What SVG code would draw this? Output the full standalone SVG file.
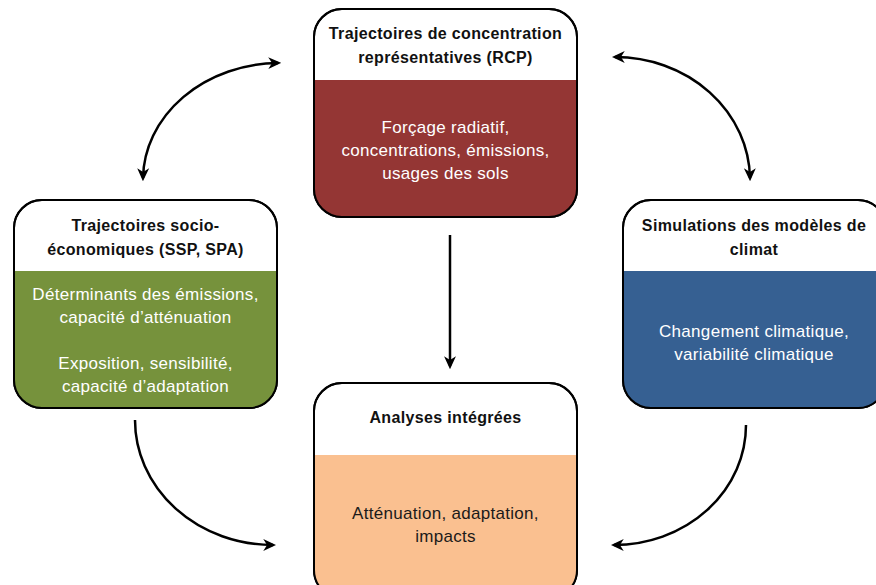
<svg xmlns="http://www.w3.org/2000/svg" width="876" height="585" viewBox="0 0 876 585">
<style>
.box{fill:#fff;stroke:#000;stroke-width:2}
.frame{fill:none;stroke:#000;stroke-width:2}
.hd{font-family:"Liberation Sans",Arial,sans-serif;font-weight:bold;font-size:16px;letter-spacing:0.35px;fill:#111;text-anchor:middle}
.bd{font-family:"Liberation Sans",Arial,sans-serif;font-size:17px;letter-spacing:0.3px;fill:#fff;text-anchor:middle}
.dk{fill:#1a1a1a}
.con{fill:none;stroke:#000;stroke-width:2.5}
</style>
<defs>
<marker id="ah" viewBox="0 0 12 12" refX="9" refY="6" markerWidth="13" markerHeight="13" markerUnits="userSpaceOnUse" orient="auto-start-reverse">
<path d="M0,0.5 L12,6 L0,11.5 L3.5,6 Z" fill="#000"/>
</marker>
</defs>
<g id="connectors">
<path class="con" d="M143,178 A137,117 0 0 1 278,63" marker-start="url(#ah)" marker-end="url(#ah)"/>
<path class="con" d="M615,57 A135,123 0 0 1 750,178" marker-start="url(#ah)" marker-end="url(#ah)"/>
<path class="con" d="M135,420 A138,125 0 0 0 273,545" marker-end="url(#ah)"/>
<path class="con" d="M746,425 A132,120 0 0 1 614,545" marker-end="url(#ah)"/>
<path class="con" d="M450,235 V366" marker-end="url(#ah)"/>
</g>
<g id="rcp">
<rect class="box" x="314" y="9" width="263" height="208" rx="28"/>
<path d="M314,80 H577 V189 A28,28 0 0 1 549,217 H342 A28,28 0 0 1 314,189 Z" fill="#943634"/>
<rect class="frame" x="314" y="9" width="263" height="208" rx="28"/>
<text class="hd" x="445.5" y="39">Trajectoires de concentration</text>
<text class="hd" x="445.5" y="63">représentatives (RCP)</text>
<text class="bd" x="445.5" y="133">Forçage radiatif,</text>
<text class="bd" x="445.5" y="156">concentrations, émissions,</text>
<text class="bd" x="445.5" y="179">usages des sols</text>
</g>
<g id="ssp">
<rect class="box" x="14" y="200" width="263" height="208" rx="28"/>
<path d="M14,271 H277 V380 A28,28 0 0 1 249,408 H42 A28,28 0 0 1 14,380 Z" fill="#76923c"/>
<rect class="frame" x="14" y="200" width="263" height="208" rx="28"/>
<text class="hd" x="145.5" y="231">Trajectoires socio-</text>
<text class="hd" x="145.5" y="255">économiques (SSP, SPA)</text>
<text class="bd" x="145.5" y="300">Déterminants des émissions,</text>
<text class="bd" x="145.5" y="323">capacité d’atténuation</text>
<text class="bd" x="145.5" y="369">Exposition, sensibilité,</text>
<text class="bd" x="145.5" y="392">capacité d’adaptation</text>
</g>
<g id="climat">
<rect class="box" x="623" y="200" width="263" height="208" rx="28"/>
<path d="M623,271 H886 V380 A28,28 0 0 1 858,408 H651 A28,28 0 0 1 623,380 Z" fill="#366092"/>
<rect class="frame" x="623" y="200" width="263" height="208" rx="28"/>
<text class="hd" x="754" y="231">Simulations des modèles de</text>
<text class="hd" x="754" y="255">climat</text>
<text class="bd" x="754" y="337">Changement climatique,</text>
<text class="bd" x="754" y="360">variabilité climatique</text>
</g>
<g id="analyses">
<rect class="box" x="314" y="383" width="263" height="215" rx="28"/>
<path d="M314,455 H577 V570 A28,28 0 0 1 549,598 H342 A28,28 0 0 1 314,570 Z" fill="#fac090"/>
<rect class="frame" x="314" y="383" width="263" height="215" rx="28"/>
<text class="hd" x="445.5" y="423">Analyses intégrées</text>
<text class="bd dk" x="445.5" y="519">Atténuation, adaptation,</text>
<text class="bd dk" x="445.5" y="542">impacts</text>
</g>
</svg>
